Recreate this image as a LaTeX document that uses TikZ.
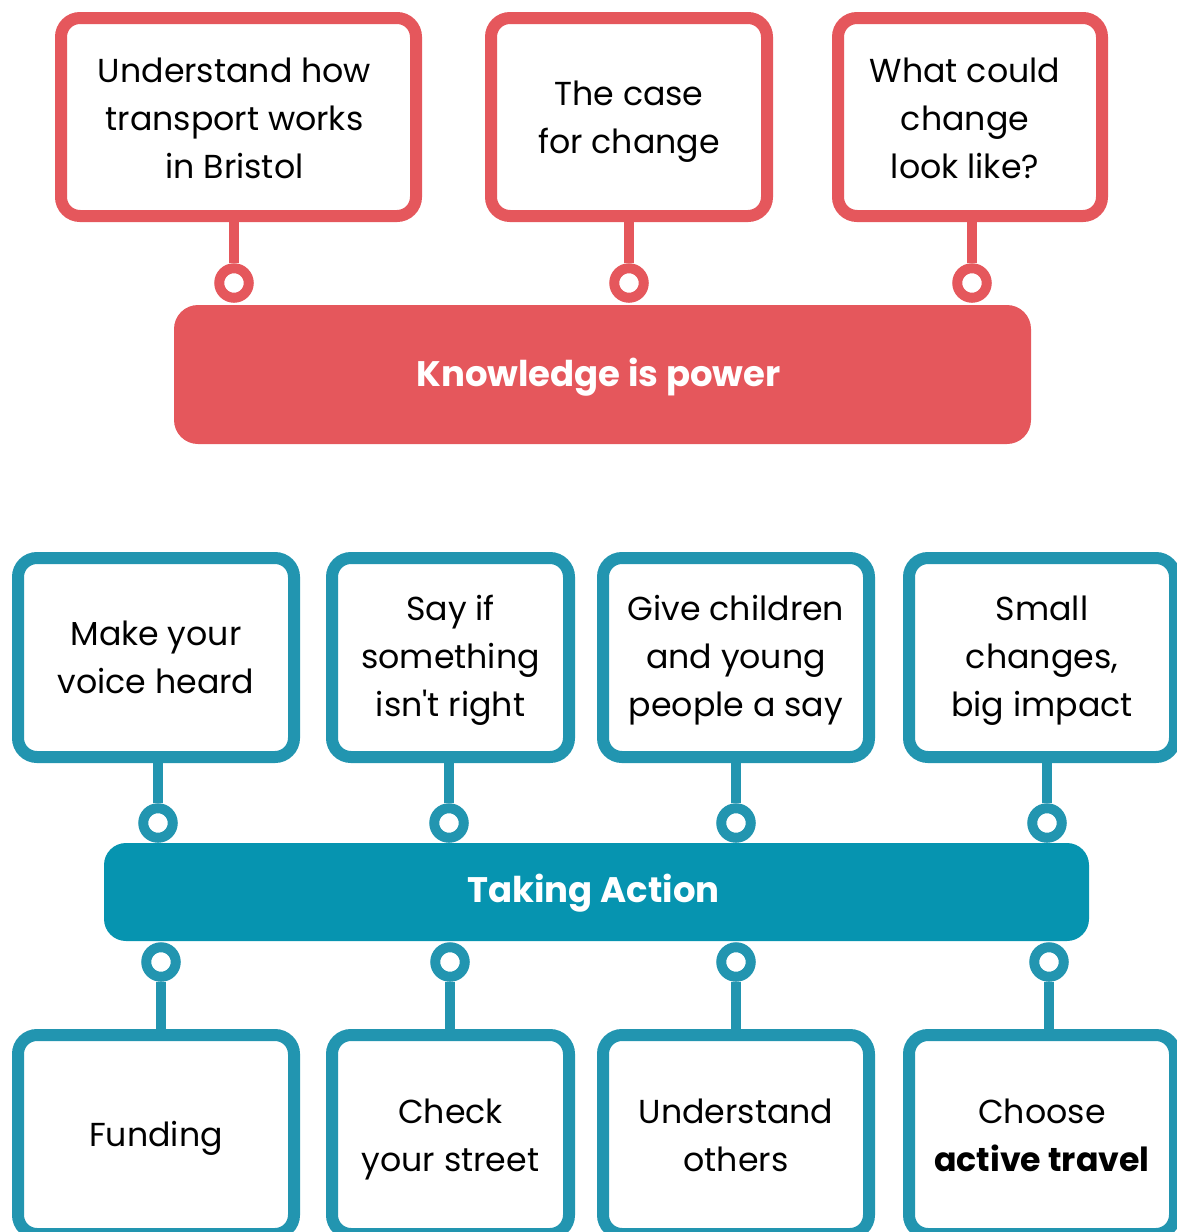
\documentclass[tikz,border=0pt]{standalone}
\usepackage{fontspec}
\setmainfont{Poppins}
% plain family without TeX ligature mapping, so ' stays a straight apostrophe
\newfontfamily\cardfamily{Poppins}

\definecolor{kred}{HTML}{E5575C}
\definecolor{tline}{HTML}{2295B0}
\definecolor{tbar}{HTML}{0694B0}

\newcommand{\cardfont}{\cardfamily\fontsize{33.2}{48}\selectfont}
\newcommand{\barfont}{\fontsize{35.5}{40}\selectfont\bfseries}

\begin{document}
\begin{tikzpicture}[x=1pt,y=-1pt,
  card/.style={draw=#1, line width=12pt, rounded corners=19pt, fill=white,
    inner sep=0pt},
  cardtext/.style={inner sep=0pt, align=center, font=\cardfont, text=black},
  bar/.style={fill=#1, rounded corners=24pt, inner sep=0pt},
  bartext/.style={inner sep=0pt, text=white, font=\barfont},
  ring/.style={circle, draw=#1, line width=10pt, fill=white,
    minimum size=29.5pt, inner sep=0pt},
  stem/.style={draw=#1, line width=10pt},
]
\useasboundingbox (0,0) rectangle (1176,1232);

% --- Knowledge is power ---
\node[card=kred, minimum width=355pt, minimum height=198pt] (r1) at (238.5,117) {};
\node[card=kred, minimum width=276pt, minimum height=198pt] (r2) at (629,117) {};
\node[card=kred, minimum width=264pt, minimum height=198pt] (r3) at (970,117) {};
\node[cardtext] (r1t) at ([shift={(-4,1)}]r1.center)
  {Understand how\\transport works\\in Bristol};
\node[cardtext] (r2t) at ([shift={(0,5)}]r2.center) {The case\\for change};
\node[cardtext] (r3t) at ([shift={(-5,1)}]r3.center) {What could\\change\\look like?};

\node[bar=kred, minimum width=857pt, minimum height=139pt] (kbar) at (602.5,374.5) {};
\node[bartext] (kbart) at ([shift={(-4,3)}]kbar.center) {Knowledge is power};

\node[ring=kred] (kr1) at (234,283) {};
\node[ring=kred] (kr2) at (629,283) {};
\node[ring=kred] (kr3) at (972,283) {};

\foreach \i in {1,2,3}
  \draw[stem=kred] (kr\i.north) -- (kr\i |- r\i.south);

% --- Taking Action ---
\node[card=tline, minimum width=276pt, minimum height=199pt] (t1) at (156,657.5) {};
\node[card=tline, minimum width=237pt, minimum height=199pt] (t2) at (450.5,657.5) {};
\node[card=tline, minimum width=266pt, minimum height=199pt] (t3) at (736,657.5) {};
\node[card=tline, minimum width=266pt, minimum height=199pt] (t4) at (1042,657.5) {};
\node[cardtext] (t1t) at (t1.center) {Make your\\voice heard};
\node[cardtext] (t2t) at ([shift={(0,3)}]t2.center) {Say if\\something\\isn't right};
\node[cardtext] (t3t) at ([shift={(0,3)}]t3.center) {Give children\\and young\\people a say};
\node[cardtext] (t4t) at ([shift={(0,3)}]t4.center) {Small\\changes,\\big impact};

\node[bar=tbar, rounded corners=22pt, minimum width=985pt, minimum height=98pt]
  (tbarnode) at (596.5,892) {};
\node[bartext] (tbart) at ([shift={(-3,1)}]tbarnode.center) {Taking Action};

\node[card=tline, minimum width=276pt, minimum height=199pt] (b1) at (156,1134.5) {};
\node[card=tline, minimum width=237pt, minimum height=199pt] (b2) at (450.5,1134.5) {};
\node[card=tline, minimum width=266pt, minimum height=199pt] (b3) at (736,1134.5) {};
\node[card=tline, minimum width=266pt, minimum height=199pt] (b4) at (1042,1134.5) {};
\node[cardtext] (b1t) at ([shift={(0,4)}]b1.center) {Funding};
\node[cardtext] (b2t) at ([shift={(0,5)}]b2.center) {Check\\your street};
\node[cardtext] (b3t) at ([shift={(0,1)}]b3.center) {Understand\\others};
\node[cardtext] (b4t) at ([shift={(0,1)}]b4.center) {Choose\\\textbf{active travel}};

\node[ring=tline] (tr1) at (158,823) {};
\node[ring=tline] (tr2) at (449,823) {};
\node[ring=tline] (tr3) at (736,823) {};
\node[ring=tline] (tr4) at (1047,823) {};

\node[ring=tline] (br1) at (161,962) {};
\node[ring=tline] (br2) at (450,962) {};
\node[ring=tline] (br3) at (736,962) {};
\node[ring=tline] (br4) at (1049,962) {};

\foreach \i in {1,2,3,4} {
  \draw[stem=tline] (tr\i.north) -- (tr\i |- t\i.south);
  \draw[stem=tline] (br\i.south) -- (br\i |- b\i.north);
}
\end{tikzpicture}
\end{document}
